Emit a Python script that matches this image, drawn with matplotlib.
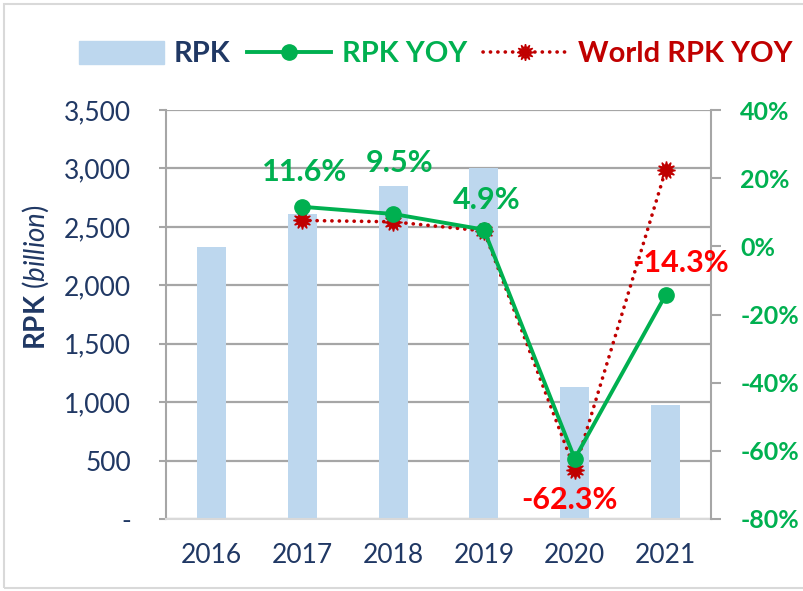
import matplotlib.pyplot as plt
from matplotlib.patches import Rectangle, Patch
from matplotlib.lines import Line2D
import numpy as np

plt.rcParams['font.family'] = ['Lato', 'DejaVu Sans']
plt.rcParams['mathtext.fontset'] = 'custom'
plt.rcParams['mathtext.rm'] = 'Lato'
plt.rcParams['mathtext.it'] = 'Lato:italic'
plt.rcParams['mathtext.bf'] = 'Lato:bold'

# ---------------- data ----------------
years = ['2016', '2017', '2018', '2019', '2020', '2021']
rpk = [2330, 2610, 2850, 3000, 1130, 975]
rpk_yoy = [np.nan, 11.6, 9.5, 4.9, -62.3, -14.3]
world_yoy = [np.nan, 7.6, 7.2, 4.5, -65.5, 22.3]
yoy_labels = ['', '11.6%', '9.5%', '4.9%', '-62.3%', '-14.3%']
left_ticks = [0, 500, 1000, 1500, 2000, 2500, 3000, 3500]
right_ticks = [-80, -60, -40, -20, 0, 20, 40]

NAVY = '#203864'
GREEN = '#00b050'
DRED = '#c00000'
RED = '#ff0000'
BAR = '#bdd7ee'
GRID = '#a6a6a6'
DOTS = (0, (0.05, 2.0))

W, H = 804, 591
fig = plt.figure(figsize=(W / 100, H / 100), dpi=100)
fig.patches.append(Rectangle((4 / W, 3 / H), 1.0, 1 - 7 / H, transform=fig.transFigure,
                             fill=False, edgecolor='#d9d9d9', lw=1.5))

ax = fig.add_axes([166 / W, 1 - 519 / H, 545 / W, 409 / H])
x = np.arange(len(years))

ax.bar(x, rpk, width=0.32, color=BAR, zorder=2)
ax.set_xlim(-0.5, 5.5)
ax.set_ylim(0, 3500)
ax.set_yticks(left_ticks)
ax.set_yticklabels(['-' if v == 0 else f'{v:,}' for v in left_ticks])
ax.set_xticks(x)
ax.set_xticklabels(years)
ax.grid(axis='y', color=GRID, lw=1.6, zorder=0)
ax.set_axisbelow(True)
for s in ['top', 'right']:
    ax.spines[s].set_visible(False)
ax.spines['left'].set_color(GRID)
ax.spines['left'].set_linewidth(1.5)
ax.spines['bottom'].set_color('#d9d9d9')
ax.spines['bottom'].set_linewidth(1.5)
ax.tick_params(axis='y', colors=GRID, length=5, width=1.5, pad=20, labelsize=19, labelcolor=NAVY)
ax.tick_params(axis='x', length=0, pad=17, labelsize=19, labelcolor=NAVY)

fig.text(36 / W, 1 - 277 / H, r'$\bf{RPK}$ $\it{(billion)}$', rotation=90,
         ha='center', va='center', color=NAVY, fontsize=20)

ax2 = ax.twinx()
ax2.set_ylim(-80, 40)
ax2.set_yticks(right_ticks)
ax2.set_yticklabels([f'{v}%' for v in right_ticks])
for s in ['top', 'left', 'bottom']:
    ax2.spines[s].set_visible(False)
ax2.spines['right'].set_color(GRID)
ax2.spines['right'].set_linewidth(1.5)
ax2.tick_params(axis='y', colors=GRID, length=7, width=1.5, pad=14, labelsize=18,
                labelcolor=GREEN)
for t in ax2.get_yticklabels():
    t.set_fontweight('bold')

ax2.plot(x, world_yoy, color=DRED, lw=2.6, ls=DOTS, dash_capstyle='round',
         marker=(12, 1, 0), markersize=13, zorder=3, label='World RPK YOY')
ax2.plot(x, rpk_yoy, color=GREEN, lw=2.8, marker='o', markersize=11, zorder=4,
         label='RPK YOY')

# data labels
offsets = [None, (2, 25), (5, 37), (2, 21), (-4, -30), (11, 23)]
for i in range(1, len(years)):
    v = rpk_yoy[i]
    dx, dy = offsets[i]
    ax2.annotate(yoy_labels[i], (x[i], v), xytext=(dx, dy), textcoords='offset points',
                 ha='center', va='center', fontsize=22, fontweight='bold',
                 color=GREEN if v >= 0 else RED, zorder=5)

# legend
handles = [Patch(color=BAR),
           Line2D([], [], color=GREEN, lw=2.8, marker='o', markersize=11),
           Line2D([], [], color=DRED, lw=2.6, ls=DOTS, dash_capstyle='round',
                  marker=(12, 1, 0), markersize=12)]
leg = fig.legend(handles, ['RPK', 'RPK YOY', 'World RPK YOY'], loc='center',
                 bbox_to_anchor=(0.542, 1 - 54 / H), ncol=3, frameon=False,
                 handlelength=2.9, handleheight=0.85, handletextpad=0.35, columnspacing=0.55,
                 prop={'weight': 'bold', 'size': 21})
for t, c in zip(leg.get_texts(), [NAVY, GREEN, DRED]):
    t.set_color(c)

fig.savefig('out.png', dpi=100)
